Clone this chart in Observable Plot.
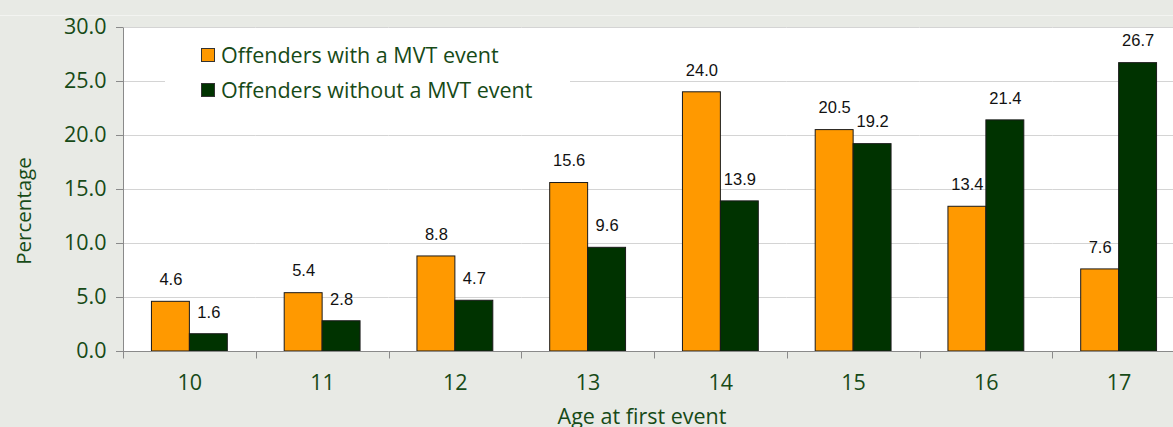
<!DOCTYPE html>
<html><head><meta charset="utf-8">
<script src="https://cdn.jsdelivr.net/npm/d3@7"></script>
<script src="https://cdn.jsdelivr.net/npm/@observablehq/plot@0.6"></script>
<style>
body{margin:0;background:#e8eae5;}
#wrap{position:relative;width:1173px;height:427px;overflow:hidden;background:#e8eae5;font-family:"Open Sans",sans-serif;color:#174a17;}
#wrap svg{position:absolute;left:0;top:0;}
#topline{position:absolute;left:0;top:15px;width:1173px;height:1px;background:#f3f4f1;}
#legend{position:absolute;left:165px;top:38px;width:405px;height:70px;background:#fff;}
.item{position:absolute;left:36px;height:22px;font-size:21.5px;line-height:22px;white-space:nowrap;}
.sw{position:absolute;left:0;top:4.5px;width:12px;height:12px;border:1px solid #333;}
.lab{position:absolute;left:20px;top:0;}
#ytitle{position:absolute;left:23px;top:211px;transform:translate(-50%,-50%) rotate(-90deg);font-size:20.5px;line-height:22px;white-space:nowrap;}
#xtitle{position:absolute;left:642px;top:405px;transform:translateX(-50%);font-size:21.5px;line-height:22px;white-space:nowrap;}
</style></head><body><div id="wrap"><div id="topline"></div></div>
<script>
const ages = [10, 11, 12, 13, 14, 15, 16, 17];
const seriesNames = ["Offenders with a MVT event", "Offenders without a MVT event"];
const withMVT = [4.6, 5.4, 8.8, 15.6, 24.0, 20.5, 13.4, 7.6];
const withoutMVT = [1.6, 2.8, 4.7, 9.6, 13.9, 19.2, 21.4, 26.7];
const yTicks = [0, 5, 10, 15, 20, 25, 30];
const seriesColors = ["#ff9900", "#003300"];
const yTitle = "Percentage";
const xTitle = "Age at first event";

const data = ages.flatMap((a, i) => [
  {age: a, series: seriesNames[0], value: withMVT[i]},
  {age: a, series: seriesNames[1], value: withoutMVT[i]}
]);

const textGreen = "#174a17";
const axisGrey = "#8a8a8a";

const chart = Plot.plot({
  width: 1173, height: 427,
  marginTop: 27, marginBottom: 76, marginLeft: 123, marginRight: -12,
  style: {background: "transparent", fontFamily: "'Open Sans', sans-serif", overflow: "hidden"},
  fx: {domain: ages, padding: 0, round: false, label: null},
  x: {domain: seriesNames, paddingInner: 0, paddingOuter: 0.75, round: false, axis: null},
  y: {domain: [0, 30], label: null},
  color: {domain: seriesNames, range: seriesColors},
  marks: [
    Plot.gridY(yTicks, {stroke: "#d4d4d4", strokeOpacity: 1}),
    Plot.barY(data, {fx: "age", x: "series", y: "value", fill: "series", stroke: "#1a1a1a", strokeWidth: 1}),
    Plot.text(data, {fx: "age", x: "series", y: "value", text: d => d.value.toFixed(1), dy: -22,
      fontSize: 16.5, fontFamily: "'Liberation Sans', Arial, sans-serif", fill: "#111"}),
    Plot.ruleY([0], {stroke: axisGrey}),
    Plot.axisY(yTicks, {tickSize: 7, tickPadding: 10, tickFormat: d => d.toFixed(1), fontSize: 21.5,
      fill: textGreen, stroke: axisGrey, label: null}),
    Plot.axisFx({anchor: "bottom", tickSize: 0, tickPadding: 23, fontSize: 21.5, fill: textGreen, label: null})
  ]
});

// plot-area background, y-axis line and category separator ticks, from Plot's own scales
const fx = chart.scale("fx");
const ys = chart.scale("y");
const svg = d3.select(chart);
const xl = fx.range[0], xr = fx.range[1];
const yb = ys.apply(0), yt = ys.apply(30);
svg.insert("rect", ":first-child")
  .attr("x", xl).attr("y", yt).attr("width", xr - xl).attr("height", yb - yt).attr("fill", "#fff");
const deco = svg.append("g").attr("stroke", axisGrey).attr("transform", "translate(0.5,0.5)");
deco.append("line").attr("x1", xl).attr("x2", xl).attr("y1", yt).attr("y2", yb);
ages.forEach(a => {
  const x = Math.round(fx.apply(a));
  deco.append("line").attr("x1", x).attr("x2", x).attr("y1", yb).attr("y2", yb + 7);
});

const wrap = document.getElementById("wrap");
wrap.appendChild(chart);

const legend = document.createElement("div");
legend.id = "legend";
seriesNames.forEach((s, i) => {
  const it = document.createElement("div");
  it.className = "item";
  it.style.top = (5.5 + i * 35) + "px";
  it.innerHTML = `<div class="sw" style="background:${seriesColors[i]}"></div><div class="lab"></div>`;
  it.querySelector(".lab").textContent = s;
  legend.appendChild(it);
});
wrap.appendChild(legend);

const yt2 = document.createElement("div"); yt2.id = "ytitle"; yt2.textContent = yTitle; wrap.appendChild(yt2);
const xt2 = document.createElement("div"); xt2.id = "xtitle"; xt2.textContent = xTitle; wrap.appendChild(xt2);
</script>
</body></html>
